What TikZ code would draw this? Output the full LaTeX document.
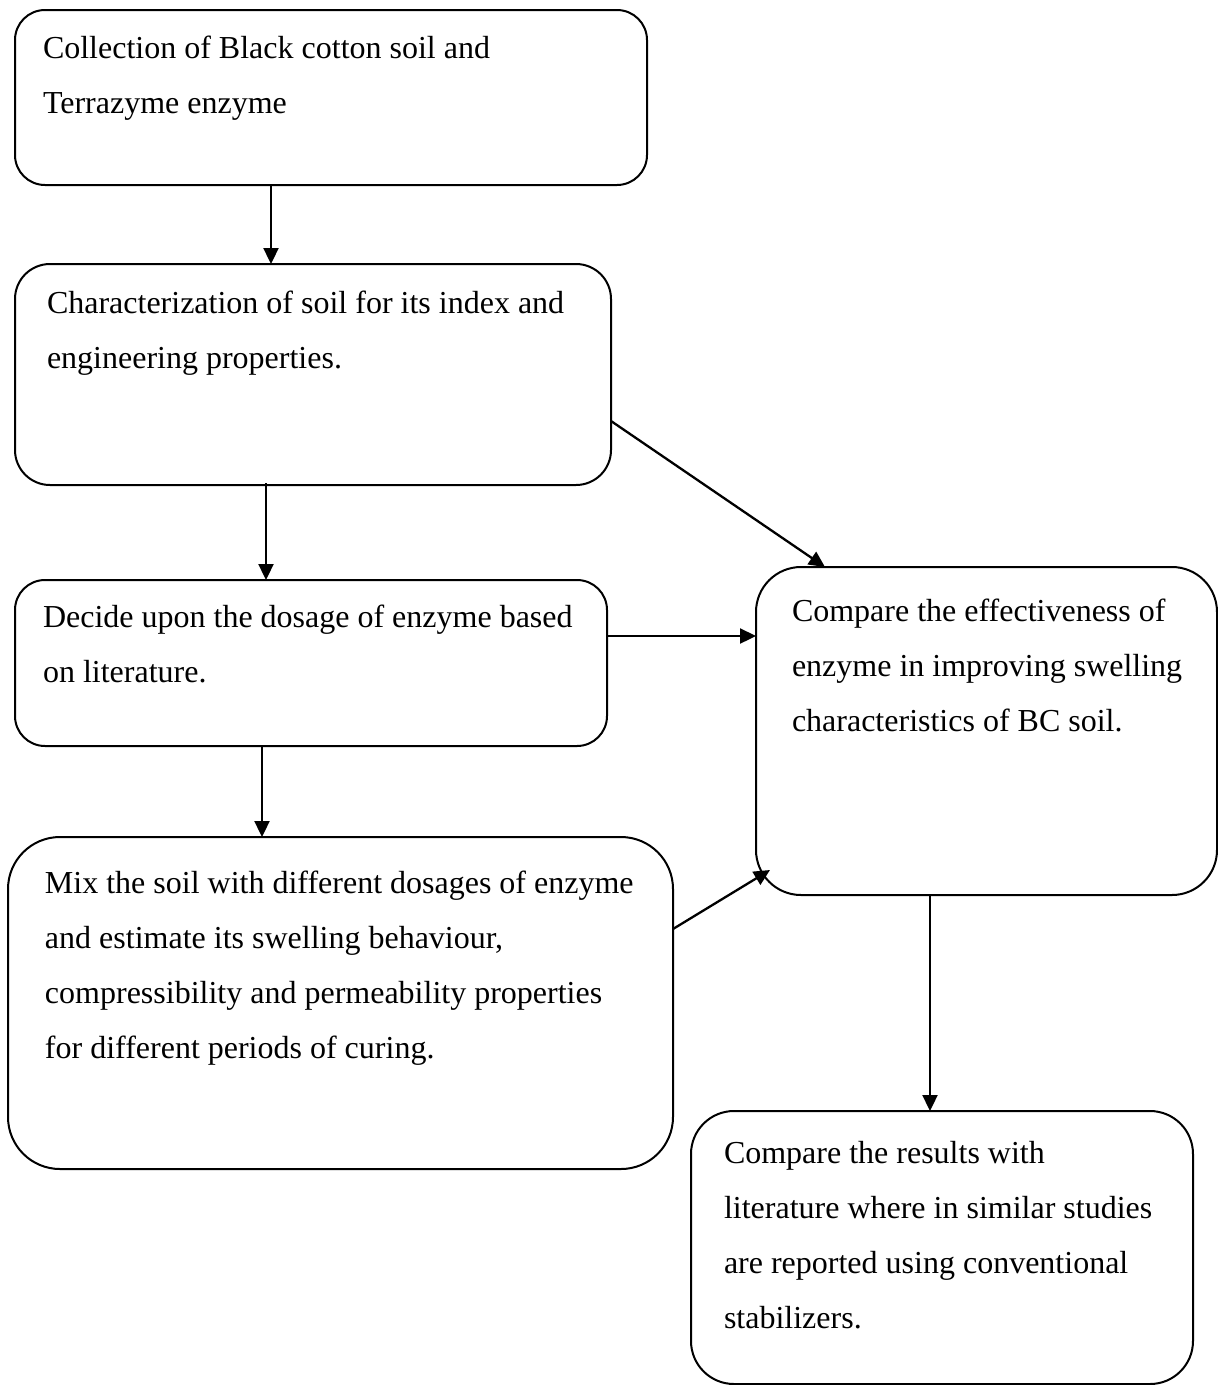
\documentclass[tikz,border=0pt]{standalone}
\usepackage{fontspec}
\setmainfont{Liberation Serif}
\usetikzlibrary{arrows.meta,calc}
\tikzset{
  box/.style={draw=black, line width=2pt, rectangle, outer sep=0pt, inner sep=0pt, anchor=north west},
  txt/.style={align=left, inner sep=0pt, outer sep=0pt, anchor=base west, font=\fontsize{32}{55}\selectfont},
  arr/.style={draw=black, line width=2.3pt, -{Triangle[length=16pt,width=15pt]}}
}
\begin{document}
\begin{tikzpicture}[x=1pt,y=1pt]
\useasboundingbox (0,0) rectangle (1218,-1385);
% boxes
\node[box, rounded corners=30pt, minimum width=632pt, minimum height=175pt] (A) at (15,-10) {};
\node[box, rounded corners=35pt, minimum width=596pt, minimum height=221pt] (B) at (15,-264) {};
\node[box, rounded corners=30pt, minimum width=592pt, minimum height=166pt] (C) at (15,-580) {};
\node[box, rounded corners=52pt, minimum width=665pt, minimum height=332pt] (D) at (8,-837) {};
\node[box, rounded corners=45pt, minimum width=461pt, minimum height=328pt] (E) at (756,-567) {};
\node[box, rounded corners=43pt, minimum width=502pt, minimum height=273pt] (F) at (691,-1111) {};
% texts (anchored at the baseline of their last line)
\node[txt] (At) at (43,-113) {Collection of Black cotton soil and\\Terrazyme enzyme};
\node[txt] (Bt) at (47,-368) {Characterization of soil for its index and\\engineering properties.};
\node[txt] (Ct) at (43,-682) {Decide upon the dosage of enzyme based\\on literature.};
\node[txt] (Dt) at (45,-1058) {Mix the soil with different dosages of enzyme\\and estimate its swelling behaviour,\\compressibility and permeability properties\\for different periods of curing.};
\node[txt] (Et) at (792,-731) {Compare the effectiveness of\\enzyme in improving swelling\\characteristics of BC soil.};
\node[txt] (Ft) at (724,-1328) {Compare the results with\\literature where in similar studies\\are reported using conventional\\stabilizers.};
% connectors
\draw[arr] ([xshift=256pt]A.south west) -- ([xshift=256pt]B.north west);
\draw[arr] ([xshift=251pt,yshift=2pt]B.south west) -- ([xshift=251pt]C.north west);
\draw[arr] ([xshift=247pt,yshift=1pt]C.south west) -- ([xshift=254pt]D.north west);
\draw[arr] ([yshift=64pt]B.south east) -- ([xshift=69pt]E.north west);
\draw[arr] ([yshift=-56pt]C.north east) -- ([yshift=-69pt]E.north west);
\draw[arr] ([yshift=-92pt]D.north east) -- ([xshift=14pt,yshift=25pt]E.south west);
\draw[arr] ([xshift=174pt]E.south west) -- ([xshift=239pt]F.north west);
\end{tikzpicture}
\end{document}
